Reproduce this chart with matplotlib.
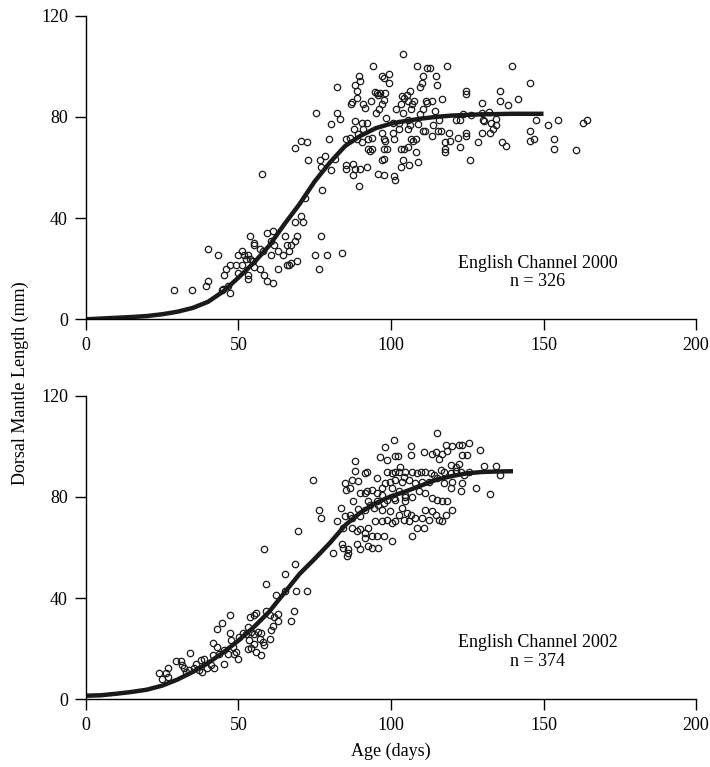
import matplotlib
matplotlib.use("Agg")
import matplotlib.pyplot as plt

plt.rcParams['font.family'] = ['Liberation Serif', 'DejaVu Serif']

# English Channel 2000 - (age in days, dorsal mantle length in mm)
pts_2000 = [
    (28.8, 11.4), (34.7, 11.4), (39.3, 13), (39.9, 15.3), (40, 27.7), (43.2, 25.3),
    (44.7, 11.4), (45, 12), (46.6, 13), (47.2, 10.4), (45.3, 17.5), (46, 19.9),
    (47.3, 21.4), (49.2, 21.4), (49.9, 18.4), (49.9, 25.3), (51.3, 26.9), (51.9, 25.3),
    (51.3, 21.4), (52.6, 23.8), (53.2, 25.3), (53.9, 23.8), (54.6, 23), (53.2, 17.7),
    (53.2, 16.1), (55.2, 20.7), (57.2, 19.9), (58.5, 17.5), (59.2, 15.3), (61.2, 14.4),
    (63.1, 19.9), (53.9, 33.1), (55.2, 30), (55.2, 29.2), (57.2, 27.7), (57.9, 26.9),
    (59.2, 34), (61.2, 34.7), (60.5, 30.8), (60.5, 25.3), (61.8, 29.2), (63.1, 26.9),
    (64.5, 25.3), (65.1, 33.1), (65.8, 29.2), (66.4, 26.9), (67.1, 29.2), (68.4, 30.8),
    (69.1, 33.1), (68.4, 38.6), (70.4, 40.9), (71, 38.6), (65.8, 21.4), (66.4, 21.4),
    (67.1, 22.2), (69.1, 23), (76.3, 19.9), (75, 25.3), (79, 25.3), (77, 33.1),
    (71.7, 47.8), (57.8, 57.3), (83.8, 26.1),
    (104, 105), (94.1, 100.2), (108.6, 100.2), (111.9, 99.4), (112.7, 99.4), (118.5, 100.2),
    (89.5, 96.3), (90, 94.2), (97.1, 96.3), (97.6, 95.5), (99.4, 97.1), (82.2, 91.6),
    (88.1, 92.4), (88.8, 90.1), (94.8, 90), (95.3, 89.4), (95.9, 88.7), (96.4, 89.4),
    (98.1, 89.4), (99.2, 93.2), (110.4, 96.3), (109.4, 91.6), (110.2, 93.4), (114.8, 96.3),
    (115.2, 92.4), (88.8, 87.4), (90.8, 85.2), (91.6, 83.5), (86.8, 85.2), (87.3, 85.9),
    (93.3, 86.1), (97.6, 86.8), (97.1, 85), (103.6, 88.3), (104.4, 87.3), (105.2, 88.7),
    (106.1, 90.1), (106.8, 85), (105.7, 86.2), (107.4, 86.2), (103.3, 85.2), (75.3, 81.6),
    (82.2, 81.6), (83.2, 79.3), (80.3, 77), (88.2, 78.4), (88, 75.1), (90.4, 77.7),
    (92.1, 77.7), (95.1, 81.6), (96, 83.2), (98.3, 79.7), (101.6, 82.9), (103.8, 81.6),
    (100.5, 77.7), (102.7, 77.7), (106.6, 82.9), (109.4, 81), (110.5, 82.9), (111.5, 86.2),
    (113.5, 86.2), (114.3, 82.2), (116.8, 87.1), (111.9, 85.5), (105.5, 78.6), (106.1, 76.6),
    (108.8, 77.3), (111, 74.5), (113.7, 76.6), (115.9, 78.6), (116.4, 74.5), (121.4, 78.6),
    (123.6, 81), (70.6, 70.6), (72.3, 69.9), (68.4, 67.6), (79.7, 71.2), (85.4, 71.4),
    (86.5, 71.8), (88.7, 71.2), (89.3, 73.1), (90.4, 69.9), (90.9, 75), (92.6, 71.2),
    (93.7, 71.8), (97, 73.8), (97.6, 71.2), (98.1, 70.6), (100.5, 73.8), (101.1, 71.2),
    (102.7, 75), (105.5, 75), (106.6, 71.2), (107.1, 70.6), (108.2, 71.2), (110.5, 74.5),
    (113.4, 72.4), (115.4, 74.5), (117.6, 70), (119.3, 70.6), (122, 71.8), (122.6, 68),
    (117.6, 66.1), (117.6, 67.4), (72.8, 62.8), (78.3, 64.4), (76.6, 62.8), (81.8, 63.4),
    (76.9, 60.2), (80.3, 58.9), (85.1, 60.8), (85.4, 59.5), (87.7, 61.4), (88.2, 59.5),
    (87.7, 56.9), (89.9, 59.3), (92.1, 60.2), (92.6, 67.3), (93.2, 66.6), (93.7, 67.3),
    (97.6, 63.4), (97.1, 62.8), (97.6, 67.3), (98.7, 67.3), (103.8, 62.8), (103.3, 67.3),
    (104.3, 67.3), (105.5, 67.9), (108.2, 66), (108.8, 62.1), (106, 60.8), (103.4, 60.2),
    (95.7, 57.5), (97.6, 56.9), (100.9, 56.6), (101.4, 55), (89.5, 52.6), (77.3, 51.1),
    (139.6, 100.2), (145.6, 93.2), (124.5, 90.1), (124.5, 89.2), (135.7, 90.1), (135.7, 86.2),
    (138.3, 84.6), (141.7, 86.9), (129.8, 85.4), (122.5, 78.9), (126.2, 80.9), (129.8, 81.5),
    (130, 78.8), (130.6, 78.3), (132.2, 82), (132.8, 77.7), (134.4, 79.2), (134.4, 76.8),
    (133.5, 75.1), (132.4, 73.8), (129.8, 73.8), (128.4, 69.9), (124.5, 73.8), (124.5, 72.3),
    (119, 73.8), (125.9, 62.8), (136.4, 69.9), (137.7, 68.4), (147.6, 78.9), (145.6, 74.5),
    (145.6, 70.6), (147, 71.2), (151.6, 76.8), (154.8, 78.9), (153.6, 71.3), (153.6, 67.4),
    (160.8, 66.7), (162.8, 77.6), (164.1, 78.9),
]

# English Channel 2002
pts_2002 = [
    (58.3, 59.2), (59.1, 45.7), (62.4, 41.2), (47.3, 33.3), (44.5, 30), (43.1, 27.8),
    (34, 18.3), (24.1, 10.4), (26.1, 10.4), (26.8, 12.2), (24.8, 8.2), (26.8, 8.9),
    (29.4, 15.1), (31, 15.1), (31.6, 13.5), (32.1, 12.2), (32.7, 10.8), (33.8, 11.4),
    (35.4, 12.2), (36, 14.1), (37.6, 15.4), (38.7, 16.1), (37.1, 11.4), (38.2, 10.8),
    (39.8, 12.2), (40.9, 13.5), (42, 12.2), (41.5, 17.4), (41.8, 22.2), (43.1, 20.6),
    (43.7, 18), (45.3, 19.3), (46.4, 18), (45.3, 14.1), (47.5, 23.3), (48.1, 20.6),
    (48.6, 18), (49.7, 16.1), (49.2, 18.7), (47.3, 26.1), (50.3, 24.5), (51.4, 26.1),
    (52.5, 25.9), (53.6, 23.3), (53, 28.5), (53.9, 32.4), (55, 33.1), (55.8, 34),
    (54.1, 26.5), (55.2, 25.9), (56.3, 26.5), (57.4, 26.1), (56.9, 23.9), (58, 22.6),
    (58.5, 21.3), (53, 19.8), (54.1, 20.1), (55.2, 22), (55.8, 18.7), (57.4, 17.4),
    (59.1, 35), (60.2, 33.1), (61.8, 32.4), (61.3, 29.1), (60.7, 27.2), (60.2, 23.9),
    (62.9, 33.5), (62.9, 31.1),
    (88.2, 94.3), (88.2, 90), (74.3, 86.7), (84.9, 85.3), (87.1, 86.7), (86.6, 83.4),
    (89.3, 86.2), (89.9, 81.4), (87.7, 78.2), (76.4, 74.9), (77, 71.6), (83.6, 75.5),
    (82.2, 70.4), (84.4, 67.7), (87.1, 71.6), (89.3, 75.1), (89.9, 67.1), (93.7, 59.8),
    (95.9, 59.8), (100.3, 62.4), (69.4, 66.4), (81, 57.6), (84.4, 59.8), (86, 57.8),
    (85.5, 56.5), (68.4, 53.6), (65.1, 49.6), (65.1, 42.6), (69, 42.6), (72.3, 42.6),
    (68.2, 34.7), (67.1, 31.1),
    (85.4, 82.7), (91.5, 81.4), (97, 83.4), (103, 91.8), (84.9, 72.3), (86.5, 72.9),
    (89.8, 72.3), (93.2, 76.9), (95.9, 76.9), (97.6, 77.5), (100.9, 79.5), (97, 70.3),
    (100.3, 69.6), (104.1, 71), (87.1, 67.7), (88.7, 66.4), (91.5, 65.7), (93.7, 64.4),
    (91.5, 63.8), (83.8, 61.2), (86, 59.2), (88.7, 61.2), (89.8, 59.2), (92.6, 60.5),
    (97.6, 64.4), (103.6, 75.5), (106.4, 72.9), (104.7, 80.1),
    (98.1, 99.7), (100.9, 102.4), (106.7, 100.1), (110.7, 97.5), (106.5, 96.5), (96.5, 95.8),
    (98.7, 94.5), (101.4, 96.1), (102.3, 96.1), (113.5, 97.1), (114.6, 97.5), (116.8, 97.1),
    (117.9, 100.5), (120.1, 100.1), (122.3, 100.5), (123.4, 100.5), (125.6, 101.4),
    (123.4, 96.5), (124.9, 96.7), (118.5, 98), (115.9, 95.1), (119.6, 92.5), (121.2, 91.9),
    (122.3, 92.8), (115.2, 105.3),
    (91.5, 89.3), (92.1, 89.9), (95.4, 87.6), (98.7, 89.9), (100.3, 89.3), (101.4, 89.9),
    (102.5, 89.9), (104.2, 88), (104.7, 89.9), (107, 89.9), (108.6, 89.3), (109.7, 89.9),
    (111.3, 89.9), (113, 89.3), (114.1, 88.6), (116.3, 90.6), (117.4, 89.9), (119.6, 89.3),
    (121.2, 90.2), (122.9, 89.9), (124, 88.6), (125.6, 89.9), (98.1, 85.3), (99.8, 86),
    (101.4, 86.7), (103.6, 86), (105.8, 86.7), (108, 85.3), (110.2, 86), (112.4, 86),
    (115.2, 87.3), (117.4, 85.3), (120.1, 86), (123.4, 85.3),
    (92.1, 82.1), (93.7, 82.7), (95.4, 81.4), (97, 80.8), (100.3, 83.4), (102.5, 82.1),
    (104.7, 80.8), (107, 80.1), (109.1, 82.1), (111.3, 81.4), (113.5, 79.5), (115.2, 78.8),
    (116.8, 78.2), (118.5, 78.2), (104.7, 78.2), (101.4, 78.8), (98.7, 78.8), (95.4, 78.2),
    (92.6, 78.2), (119.6, 83.4), (122.9, 82.1),
    (91.5, 74.9), (94.3, 75.5), (97, 74.9), (99.8, 74.2), (102.5, 72.9), (105.3, 73.6),
    (108, 71.6), (111.3, 74.9), (113.5, 74.2), (115.7, 71), (117.9, 72.9), (120.1, 74.9),
    (94.8, 70.3), (98.7, 71), (101.4, 70.3), (105.8, 70.3), (108.6, 67.7), (110.8, 67.7),
    (107, 64.4), (92.6, 67.7), (95.4, 64.4),
    (116.8, 70.3), (114.6, 72.7), (112.4, 71), (110.2, 71.6),
    (129.1, 98.3), (130.4, 92.2), (134.5, 92.2), (135.6, 88.6), (127.8, 83.4), (132.4, 81),
]

# fitted growth curves
curve_age_2000 = [0, 5, 10, 15, 20, 25, 30, 35, 40, 45, 50, 55, 60, 65, 70, 75, 80,
                  85, 90, 95, 100, 105, 110, 115, 120, 130, 140, 150]
curve_dml_2000 = [0, 0.3, 0.6, 0.9, 1.3, 2, 3, 4.5, 6.9, 11, 16.5, 22.3, 29, 37.5, 45.5,
                  54.5, 62, 68.5, 72.5, 75.5, 77.3, 78.4, 79.3, 80, 80.5, 81, 81.2, 81.2]

curve_age_2002 = [0, 5, 10, 15, 20, 25, 30, 35, 40, 45, 50, 55, 60, 65, 70, 75, 80,
                  85, 90, 95, 100, 105, 110, 115, 120, 125, 130, 135, 140]
curve_dml_2002 = [1.4, 1.6, 2.2, 2.9, 3.8, 5.4, 7.8, 10.8, 14.3, 18.5, 23.2, 28.5, 34.5,
                  42, 49.5, 55.5, 61.8, 68.8, 73.8, 77.5, 80.2, 82.2, 84.5, 86.8, 88.2,
                  89.3, 89.8, 90, 90.1]

labels = ['English Channel 2000\nn = 326', 'English Channel 2002\nn = 374']
xticks = [0, 50, 100, 150, 200]
yticks = [0, 40, 80, 120]

fig = plt.figure(figsize=(7.10, 7.67), dpi=100)
ax1 = fig.add_axes([0.1211, 0.5837, 0.8592, 0.396])
ax2 = fig.add_axes([0.1211, 0.0883, 0.8592, 0.396])

panels = [(ax1, pts_2000, curve_age_2000, curve_dml_2000, labels[0]),
          (ax2, pts_2002, curve_age_2002, curve_dml_2002, labels[1])]

for ax, pts, cx, cy, lab in panels:
    ages = [p[0] for p in pts]
    dml = [p[1] for p in pts]
    ax.plot(ages, dml, 'o', ms=4.6, mfc='none', mec='#1a1a1a', mew=0.9, clip_on=False)
    ax.plot(cx, cy, '-', color='#1a1a1a', lw=3.2, solid_capstyle='butt')
    ax.set_xlim(0, 200)
    ax.set_ylim(0, 120)
    ax.set_xticks(xticks)
    ax.set_yticks(yticks)
    for s in ['top', 'right']:
        ax.spines[s].set_visible(False)
    for s in ['left', 'bottom']:
        ax.spines[s].set_linewidth(1.0)
    ax.tick_params(direction='out', length=8, width=1.0, labelsize=13, pad=5)
    ax.text(148, 18.5, lab, ha='center', va='center', fontsize=13, linespacing=1.15)

ax2.set_xlabel('Age (days)', fontsize=13, labelpad=6)
fig.text(0.028, 0.5, 'Dorsal Mantle Length (mm)', rotation=90, ha='center',
         va='center', fontsize=13)

fig.savefig('out.png', dpi=100)
